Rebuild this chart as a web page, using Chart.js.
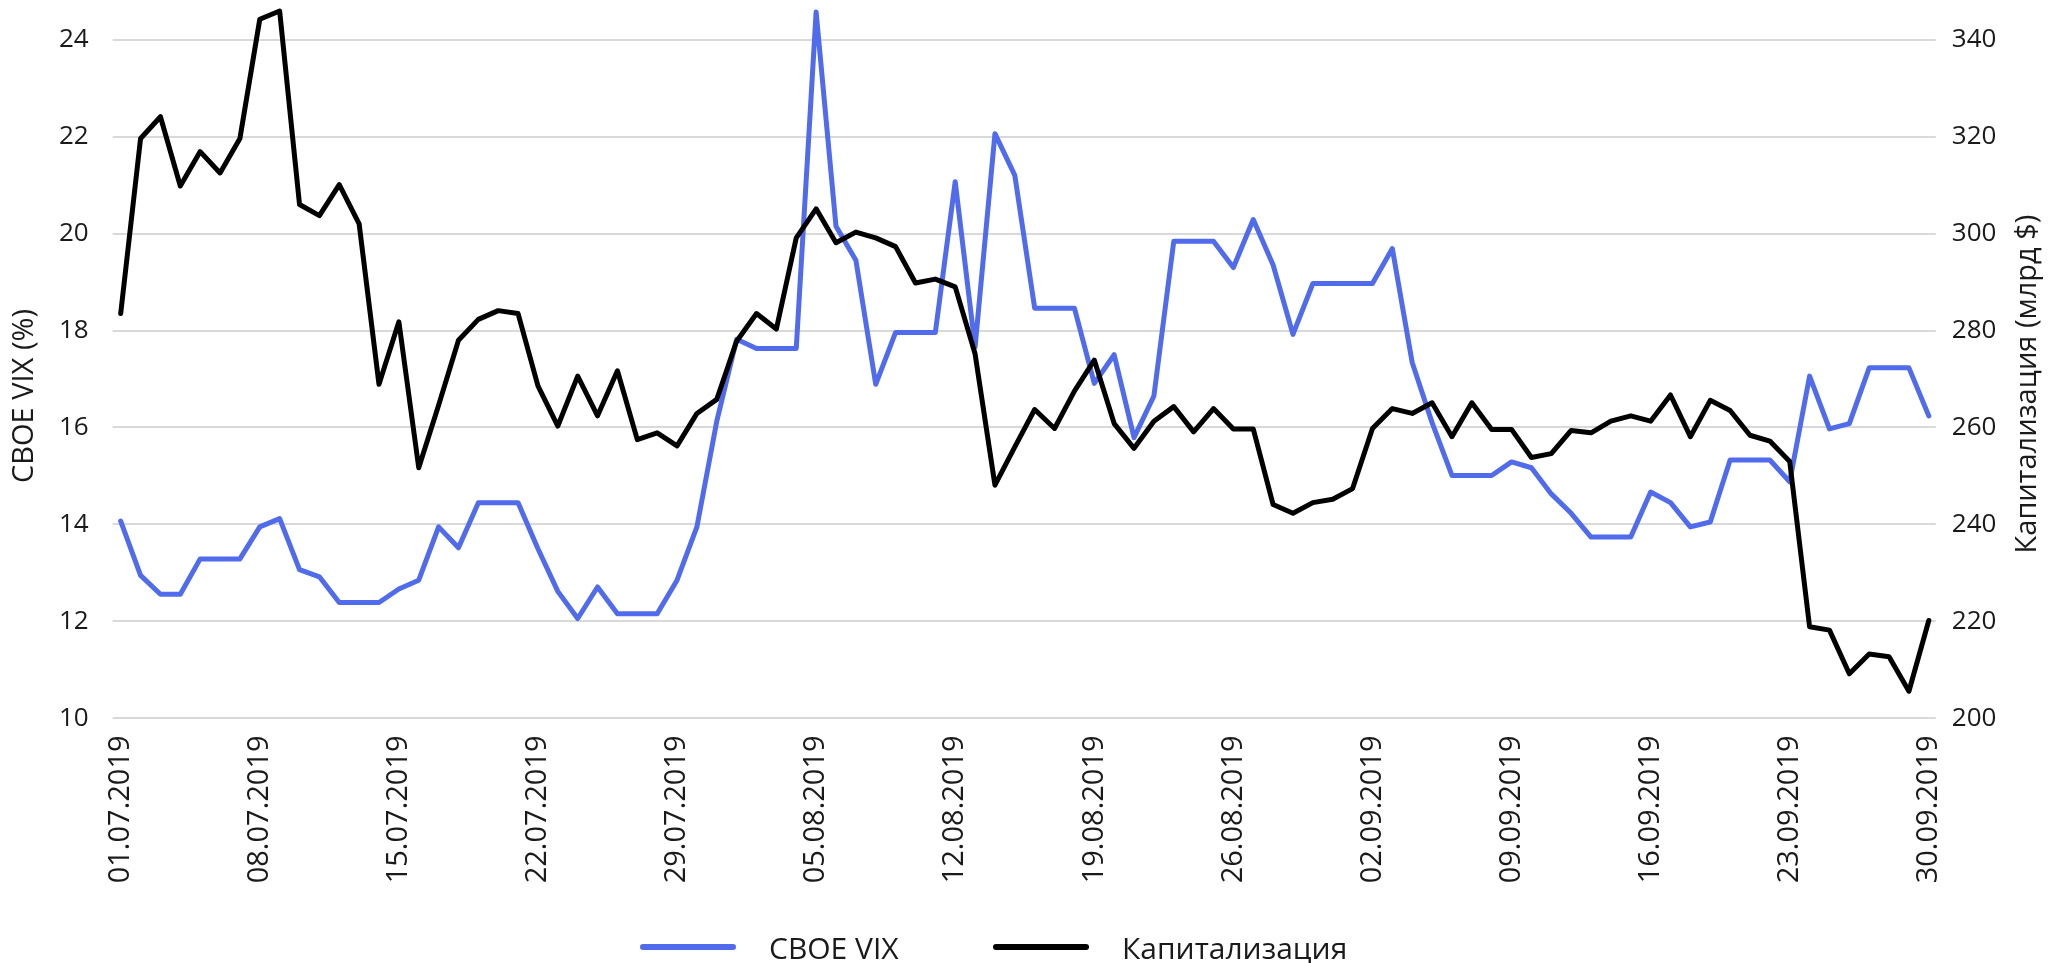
<!DOCTYPE html>
<html lang="ru">
<head>
<meta charset="UTF-8">
<title>CBOE VIX и капитализация</title>
<style>
html, body { margin:0; padding:0; background:#fff; }
#wrap { position:relative; width:2048px; height:963px; }
#legend .item { position:absolute; top:927px; height:40px; display:flex; align-items:center;
  font-family:"Open Sans", sans-serif; font-size:30px; color:#1a1a1a; white-space:nowrap; }
#legend .swatch { width:96px; height:6px; border-radius:3px; margin-right:33px; }
</style>
</head>
<body>
<div id="wrap">
<canvas id="chart" width="2048" height="963"></canvas>
<div id="legend"></div>
</div>
<script src="https://cdn.jsdelivr.net/npm/chart.js"></script>
<script>
// daily dates, 01.07.2019 - 30.09.2019
const dates = [
  '01.07.2019','02.07.2019','03.07.2019','04.07.2019','05.07.2019','06.07.2019','07.07.2019','08.07.2019',
  '09.07.2019','10.07.2019','11.07.2019','12.07.2019','13.07.2019','14.07.2019','15.07.2019','16.07.2019',
  '17.07.2019','18.07.2019','19.07.2019','20.07.2019','21.07.2019','22.07.2019','23.07.2019','24.07.2019',
  '25.07.2019','26.07.2019','27.07.2019','28.07.2019','29.07.2019','30.07.2019','31.07.2019',
  '01.08.2019','02.08.2019','03.08.2019','04.08.2019','05.08.2019','06.08.2019','07.08.2019','08.08.2019',
  '09.08.2019','10.08.2019','11.08.2019','12.08.2019','13.08.2019','14.08.2019','15.08.2019','16.08.2019',
  '17.08.2019','18.08.2019','19.08.2019','20.08.2019','21.08.2019','22.08.2019','23.08.2019','24.08.2019',
  '25.08.2019','26.08.2019','27.08.2019','28.08.2019','29.08.2019','30.08.2019','31.08.2019',
  '01.09.2019','02.09.2019','03.09.2019','04.09.2019','05.09.2019','06.09.2019','07.09.2019','08.09.2019',
  '09.09.2019','10.09.2019','11.09.2019','12.09.2019','13.09.2019','14.09.2019','15.09.2019','16.09.2019',
  '17.09.2019','18.09.2019','19.09.2019','20.09.2019','21.09.2019','22.09.2019','23.09.2019','24.09.2019',
  '25.09.2019','26.09.2019','27.09.2019','28.09.2019','29.09.2019','30.09.2019'
];

// CBOE VIX, %
const vix = [
  14.07, 12.95, 12.56, 12.56, 13.29, 13.29, 13.29, 13.95, 14.12, 13.07, 12.92, 12.39, 12.39, 12.39,
  12.67, 12.85, 13.95, 13.52, 14.45, 14.45, 14.45, 13.50, 12.62, 12.06, 12.71, 12.16, 12.16, 12.16,
  12.85, 13.95, 16.13, 17.82, 17.63, 17.63, 17.63, 24.57, 20.15, 19.45, 16.89, 17.96, 17.96, 17.96,
  21.07, 17.66, 22.06, 21.20, 18.46, 18.46, 18.46, 16.91, 17.50, 15.79, 16.65, 19.84, 19.84, 19.84,
  19.30, 20.29, 19.35, 17.92, 18.97, 18.97, 18.97, 18.97, 19.69, 17.34, 16.10, 15.01, 15.01, 15.01,
  15.29, 15.17, 14.63, 14.23, 13.74, 13.74, 13.74, 14.67, 14.45, 13.95, 14.05, 15.33, 15.33, 15.33,
  14.88, 17.06, 15.97, 16.08, 17.23, 17.23, 17.23, 16.24
];

// капитализация, млрд $
const cap = [
  283.5, 319.6, 324.1, 309.8, 316.9, 312.5, 319.6, 344.2, 345.9, 306.0, 303.7, 310.1, 302.0, 268.9,
  281.8, 251.7, 264.6, 278.0, 282.3, 284.1, 283.5, 268.6, 260.3, 270.6, 262.4, 271.7, 257.5, 258.9,
  256.2, 262.9, 265.8, 277.8, 283.5, 280.3, 299.1, 305.1, 298.1, 300.3, 299.1, 297.3, 289.8, 290.6,
  289.0, 275.2, 248.1, 256.0, 263.7, 259.8, 267.5, 273.9, 260.8, 255.7, 261.3, 264.3, 259.1, 263.9,
  259.7, 259.7, 244.1, 242.3, 244.5, 245.2, 247.4, 259.8, 263.9, 262.9, 265.1, 258.1, 265.1, 259.6,
  259.6, 253.8, 254.6, 259.4, 258.9, 261.3, 262.4, 261.3, 266.7, 258.1, 265.6, 263.5, 258.4, 257.2,
  253.0, 218.9, 218.2, 209.2, 213.3, 212.7, 205.6, 220.2
];

const seriesNames = ['CBOE VIX', 'Капитализация'];
const seriesColors = ['#506BEB', '#000000'];
const leftTitle = 'CBOE VIX (%)';
const rightTitle = 'Капитализация (млрд $)';
const labelStep = 7;

const textColor = '#1a1a1a';
Chart.defaults.font.family = '"Open Sans", sans-serif';
Chart.defaults.color = textColor;

// both axis titles read bottom-to-top, Chart.js puts the right one top-to-bottom
const axisTitles = {
  id: 'axisTitles',
  afterDraw(chart) {
    const { ctx, chartArea: a } = chart;
    const mid = (a.top + a.bottom) / 2;
    ctx.save();
    ctx.font = '29px "Open Sans"';
    ctx.fillStyle = textColor;
    ctx.textAlign = 'center';
    ctx.textBaseline = 'middle';
    ctx.translate(25, mid + 17);
    ctx.rotate(-Math.PI / 2);
    ctx.fillText(leftTitle, 0, 0);
    ctx.restore();
    ctx.save();
    ctx.font = '29px "Open Sans"';
    ctx.fillStyle = textColor;
    ctx.textAlign = 'center';
    ctx.textBaseline = 'middle';
    ctx.translate(2028, mid + 5);
    ctx.rotate(-Math.PI / 2);
    ctx.fillText(rightTitle, 0, 0);
    ctx.restore();
  }
};

const lineStyle = { borderWidth: 5, pointRadius: 0, tension: 0, clip: false,
  borderJoinStyle: 'round', borderCapStyle: 'round' };

const chart = new Chart(document.getElementById('chart').getContext('2d'), {
  type: 'line',
  data: {
    labels: dates,
    datasets: [
      Object.assign({ label: seriesNames[0], data: vix, yAxisID: 'y', order: 1,
        borderColor: seriesColors[0], backgroundColor: seriesColors[0] }, lineStyle),
      Object.assign({ label: seriesNames[1], data: cap, yAxisID: 'y1', order: 0,
        borderColor: seriesColors[1], backgroundColor: seriesColors[1] }, lineStyle)
    ]
  },
  options: {
    responsive: false,
    animation: false,
    devicePixelRatio: 1,
    layout: { padding: { top: 36.6, left: 0, right: 0, bottom: 0 } },
    plugins: { legend: { display: false }, tooltip: { enabled: false } },
    scales: {
      x: {
        grid: { display: false, drawTicks: false },
        border: { display: false },
        ticks: {
          autoSkip: false, minRotation: 90, maxRotation: 90, padding: 17,
          font: { size: 29 },
          callback(v, i) { return i % labelStep === 0 ? this.getLabelForValue(v) : ''; }
        },
        afterFit(s) { s.height = 244.6; }
      },
      y: {
        position: 'left', min: 10, max: 24,
        ticks: { stepSize: 2, padding: 24, font: { size: 26 } },
        grid: { color: '#d9d9d9', lineWidth: 2, tickLength: 8 },
        border: { display: false },
        afterFit(s) { s.width = 120.7; }
      },
      y1: {
        position: 'right', min: 200, max: 340,
        ticks: { stepSize: 20, padding: 16, font: { size: 26 } },
        grid: { drawOnChartArea: false, color: '#d9d9d9', lineWidth: 2, tickLength: 7 },
        border: { display: false },
        afterFit(s) { s.width = 119.2; }
      }
    }
  },
  plugins: [axisTitles]
});

// legend under the chart
const legendLeft = [640, 993];
const legend = document.getElementById('legend');
chart.data.datasets.forEach((ds, i) => {
  const item = document.createElement('div');
  item.className = 'item';
  item.style.left = legendLeft[i] + 'px';
  const sw = document.createElement('span');
  sw.className = 'swatch';
  sw.style.background = ds.borderColor;
  const txt = document.createElement('span');
  txt.textContent = ds.label;
  item.appendChild(sw);
  item.appendChild(txt);
  legend.appendChild(item);
});
</script>
</body>
</html>
